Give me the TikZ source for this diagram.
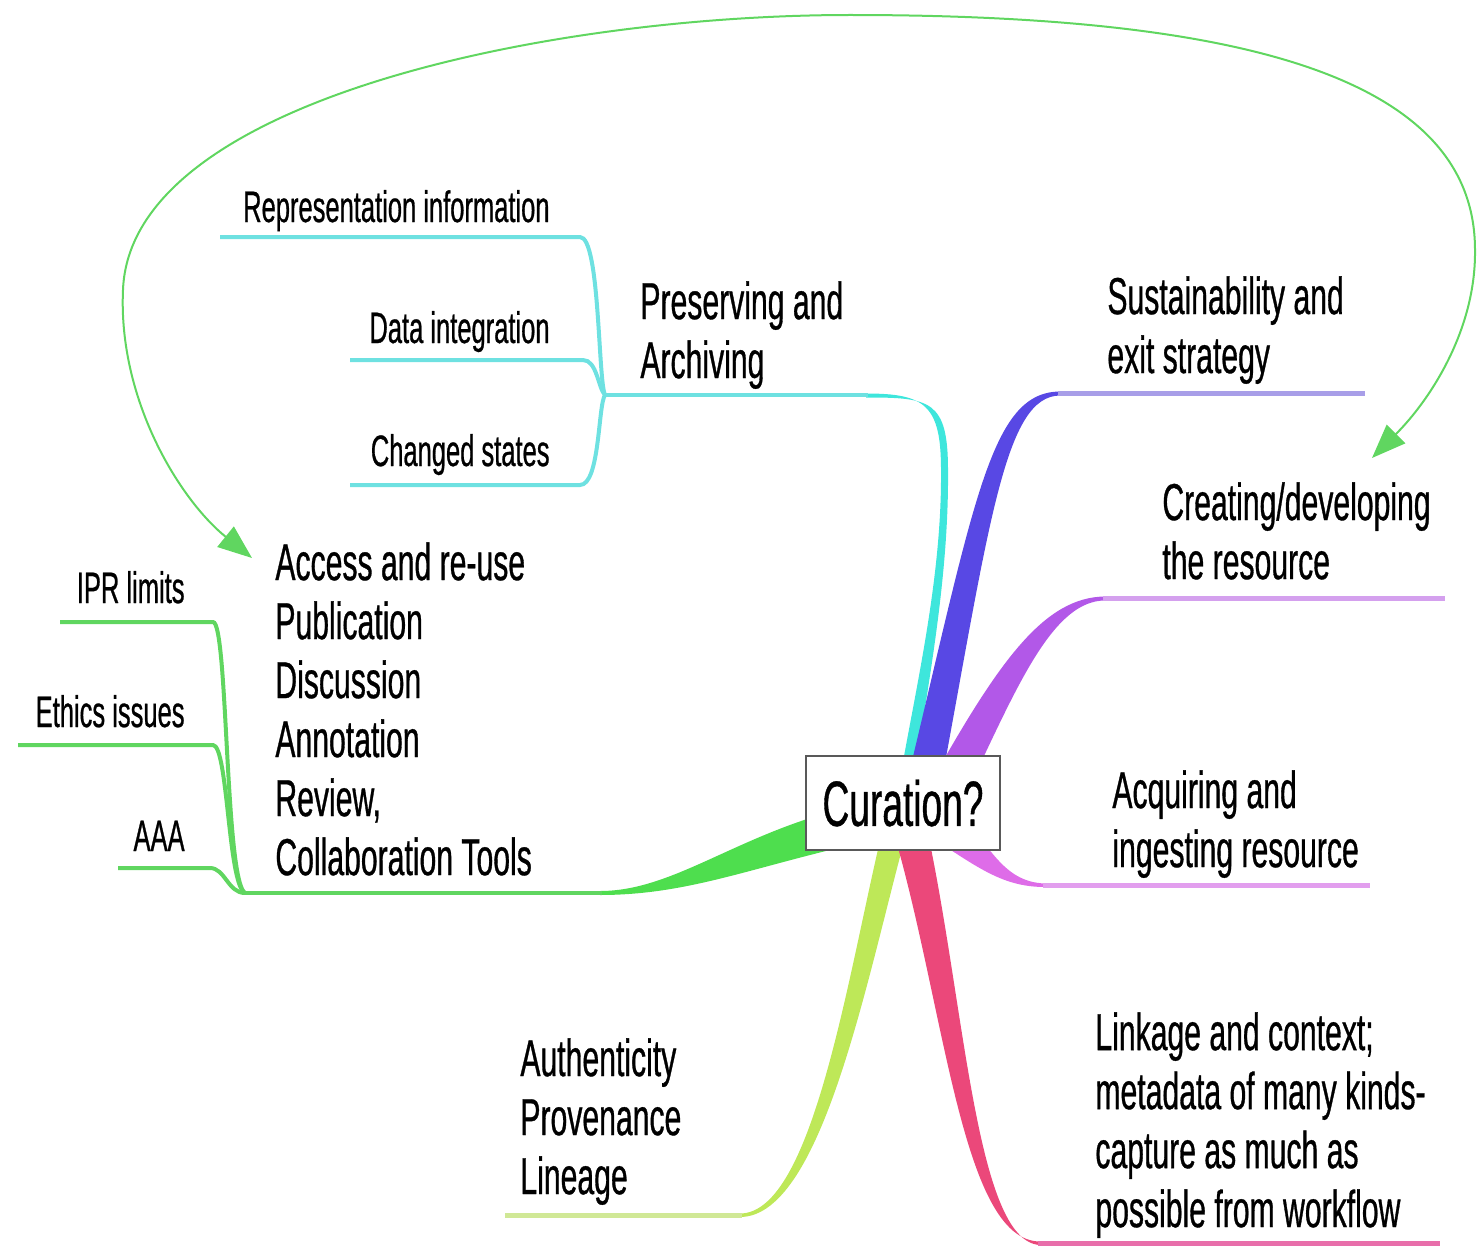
\documentclass[tikz,border=0pt]{standalone}
\usepackage{fontspec}
\setmainfont{Liberation Sans}[FakeStretch=0.58,FakeBold=0.6]
\usetikzlibrary{arrows.meta,positioning}

\definecolor{cyanbr}{RGB}{62,230,220}
\definecolor{cyantw}{RGB}{110,225,225}
\definecolor{bluebr}{RGB}{88,72,228}
\definecolor{bluetw}{RGB}{168,158,232}
\definecolor{purpbr}{RGB}{178,88,232}
\definecolor{purptw}{RGB}{212,160,238}
\definecolor{magbr}{RGB}{222,108,232}
\definecolor{magtw}{RGB}{226,158,238}
\definecolor{pinkbr}{RGB}{235,72,122}
\definecolor{pinktw}{RGB}{232,110,170}
\definecolor{limebr}{RGB}{190,232,88}
\definecolor{limetw}{RGB}{208,232,150}
\definecolor{grnbr}{RGB}{78,222,78}
\definecolor{grntw}{RGB}{96,214,96}

\tikzset{
  lbl/.style={font=\fontsize{26}{29.5}\selectfont, align=left, inner sep=0pt, anchor=north west},
  sublbl/.style={font=\fontsize{22}{26}\selectfont, inner sep=0pt, anchor=base east},
  twig/.style={line width=2pt},
  stem/.style={line width=2.4pt},
  hub/.style={draw=black!65, line width=1.2pt, fill=white, minimum width=97pt,
    minimum height=47pt, inner sep=0pt, font=\fontsize{32}{36}\selectfont},
  loopback/.style={draw=grntw, line width=1pt,
    {Triangle[length=17pt,width=13pt]}-{Triangle[length=17pt,width=13pt]}}
}

\begin{document}
\begin{tikzpicture}[x=0.5pt,y=-0.5pt]
\useasboundingbox (0,0) rectangle (1478,1247);

% junctions and line ends
\coordinate (cj) at (605,395);
\coordinate (gj) at (245,893);
\coordinate (cyanend) at (868,395);
\coordinate (grnend) at (602,893);

% tapered branches
\fill[cyanbr] (866,393.5) .. controls (925,393.5) and (941,405) .. (941,470)
  .. controls (942,580) and (915,690) .. (898,790) -- (912,790)
  .. controls (927,690) and (949,580) .. (948,470)
  .. controls (948,400) and (930,397.5) .. (866,397.5) -- cycle;
\fill[bluebr] (1060,391.5) .. controls (990,392) and (975,500) .. (905,790)
  -- (940,790) .. controls (990,520) and (1005,396) .. (1060,395.5) -- cycle;
\fill[purpbr] (1105,596.5) .. controls (1045,597) and (1000,660) .. (935,775)
  -- (975,775) .. controls (1020,680) and (1055,600.5) .. (1105,600.5) -- cycle;
\fill[magbr] (960,820) .. controls (990,840) and (1000,882) .. (1045,883.5)
  -- (1045,887) .. controls (1000,887) and (975,865) .. (920,830) -- cycle;
\fill[limebr] (885,820) .. controls (850,960) and (815,1213.5) .. (740,1213.5)
  -- (740,1217) .. controls (825,1217) and (870,960) .. (910,820) -- cycle;
\fill[pinkbr] (890,820) .. controls (945,1000) and (960,1241) .. (1040,1241.5)
  -- (1040,1245) .. controls (975,1242) and (965,1000) .. (925,820) -- cycle;
\fill[grnbr] (830,812) .. controls (730,840) and (670,891) .. (600,891)
  -- (600,895) .. controls (680,895) and (740,872) .. (830,850) -- cycle;

% thin lines of the main branches
\draw[stem,cyantw] (cj) -- (cyanend);
\draw[stem,bluetw] (1058,393.5) -- (1365,393.5);
\draw[stem,purptw] (1103,598.5) -- (1445,598.5);
\draw[stem,magtw] (1043,885.2) -- (1370,885.2);
\draw[stem,pinktw] (1038,1243.2) -- (1440,1243.2);
\draw[stem,limetw] (742,1215.2) -- (505,1215.2);
\draw[stem,grntw] (grnend) -- (gj);

% sub-branches
\draw[twig,cyantw] (220,237) -- (580,237) .. controls (600,237) and (598,380) .. (cj);
\draw[twig,cyantw] (350,360) -- (583,360) .. controls (597,360) and (598,388) .. (cj);
\draw[twig,cyantw] (350,485) -- (580,485) .. controls (600,485) and (598,405) .. (cj);
\draw[twig,grntw] (60,622) -- (213,622) .. controls (228,622) and (225,880) .. (gj);
\draw[twig,grntw] (18,745) -- (213,745) .. controls (228,745) and (228,885) .. (gj);
\draw[twig,grntw] (118,868) -- (210,868) .. controls (225,868) and (228,893) .. (gj);

% centre
\node[hub] (cur) at (903,803) {Curation?};

% labels
\node[lbl] (pres) at (640,281) {Preserving and\\Archiving};
\node[lbl] (sust) at (1107,276) {Sustainability and\\exit strategy};
\node[lbl] (crea) at (1162,482) {Creating/developing\\the resource};
\node[lbl] (acq) at (1112,770) {Acquiring and\\ingesting resource};
\node[lbl] (lnk) at (1095,1012) {Linkage and context;\\metadata of many kinds-\\capture as much as\\possible from workflow};
\node[lbl] (auth) at (520,1038) {Authenticity\\Provenance\\Lineage};
\node[lbl] (acc) at (275,542) {Access and re-use\\Publication\\Discussion\\Annotation\\Review,\\Collaboration Tools};

\node[sublbl] (rep) at (550,222) {Representation information};
\node[sublbl] (dint) at (550,343) {Data integration};
\node[sublbl] (chg) at (550,466) {Changed states};
\node[sublbl] (ipr) at (185,603) {IPR limits};
\node[sublbl] (eth) at (185,727) {Ethics issues};
\node[sublbl] (aaa) at (185,851) {AAA};

% arrow from access round to creating
\coordinate (loopA) at (252,558);
\coordinate (loopB) at (1372,458);
\draw[loopback] (loopA) .. controls (180,500) and (118,400) .. (123,290)
  .. controls (130,100) and (550,15) .. (850,15)
  .. controls (1250,15) and (1475,80) .. (1475,250)
  .. controls (1476,330) and (1430,400) .. (loopB);

\end{tikzpicture}
\end{document}
